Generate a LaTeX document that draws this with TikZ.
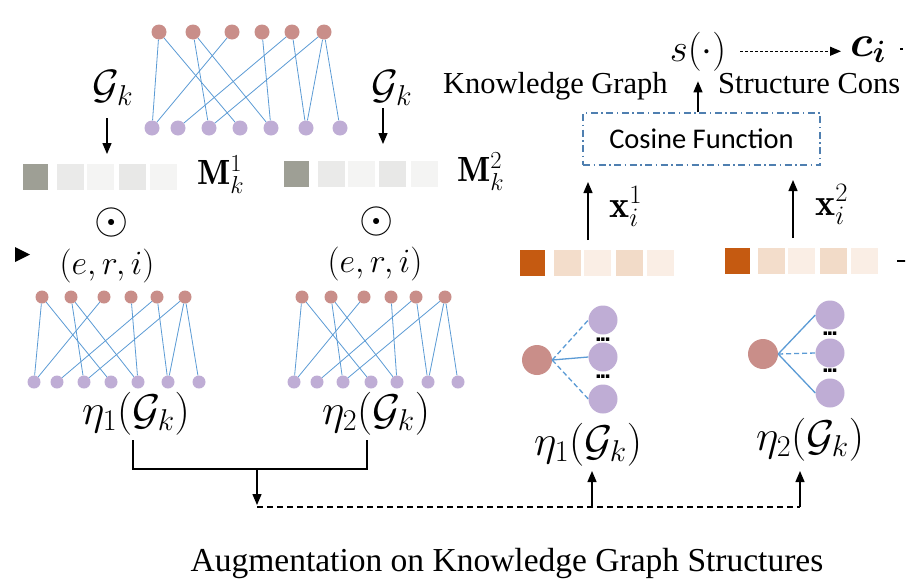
\RequirePackage{fix-cm}
\documentclass[tikz,border=0pt]{standalone}
\usepackage{fontspec}
\usepackage{amsmath,amssymb,bm}
\usetikzlibrary{arrows.meta}
\newfontfamily\timesfont{Liberation Serif}
\newfontfamily\califont{Carlito}
\newfontfamily\dotfont{Liberation Sans}[BoldFont={Liberation Sans Bold}]
\newcommand\fs[1]{\fontsize{#1}{#1}\selectfont}
\newcommand\vdotsx{{\dotfont\bfseries\fs{24}.\kern-2pt.\kern-2pt.}}
\definecolor{rednode}{HTML}{C98E89}
\definecolor{purnode}{HTML}{BFADD5}
\definecolor{edgeblue}{HTML}{5B9BD5}
\definecolor{boxblue}{HTML}{4F7FB0}
\definecolor{gdark}{HTML}{9E9F95}
\definecolor{gA}{HTML}{EAEAE9}
\definecolor{gB}{HTML}{F4F4F3}
\definecolor{gC}{HTML}{E8E8E7}
\definecolor{odark}{HTML}{C55A11}
\definecolor{oA}{HTML}{F3DDCB}
\definecolor{oB}{HTML}{FAEEE5}
\definecolor{oC}{HTML}{F2DBC8}
\begin{document}
\begin{tikzpicture}[x=1pt,y=-1pt,
  rn/.style={circle,fill=rednode,inner sep=0pt,minimum size=15pt},
  pn/.style={circle,fill=purnode,inner sep=0pt,minimum size=15pt},
  srn/.style={rn,minimum size=13pt},
  spn/.style={pn,minimum size=13pt},
  ed/.style={edgeblue,line width=0.8pt},
  sed/.style={edgeblue,line width=1.3pt},
  sdash/.style={sed,dash pattern=on 5pt off 3pt},
  sq/.style={rectangle,inner sep=0pt,minimum width=27pt,minimum height=26pt},
  dsq/.style={rectangle,inner sep=0pt,minimum width=25pt,minimum height=26pt},
  arr/.style={-{Triangle[length=11pt,width=9pt]},line width=1.3pt},
  darr/.style={-{Triangle[length=11pt,width=9pt]},line width=1.1pt,dash pattern=on 3pt off 2pt},
  brk/.style={line width=1.1pt},
  bdash/.style={line width=1.1pt,dash pattern=on 6pt off 4pt},
  mth/.style={inner sep=0pt}
]
\useasboundingbox (0,0) rectangle (924,584);
\fill[white] (0,0) rectangle (924,584);
\begin{scope}
\clip (0,0) rectangle (905,584);

% ---------- top graph
\foreach \x [count=\i] in {159,193,232,262,292,324}
  \node[rn] (t-r\i) at (\x,32) {};
\foreach \x [count=\i] in {152,178,209,240,271,306,340}
  \node[pn] (t-p\i) at (\x,128) {};
\foreach \a/\b in {1/1,1/4,2/3,2/5,3/1,4/5,5/2,5/6,6/3,6/6,6/7}
  \draw[ed] (t-r\a) -- (t-p\b);

% ---------- bottom graphs
\foreach \x [count=\i] in {42,71,104,131,157,185}
  \node[srn] (a-r\i) at (\x,297) {};
\foreach \x [count=\i] in {34,57,84,111,138,168,199}
  \node[spn] (a-p\i) at (\x,382) {};
\foreach \x [count=\i] in {302,331,364,391,416,445}
  \node[srn] (b-r\i) at (\x,297) {};
\foreach \x [count=\i] in {294,317,343,371,397,428,458}
  \node[spn] (b-p\i) at (\x,382) {};
\foreach \a/\b in {1/1,1/4,2/3,2/5,3/1,4/5,5/2,5/6,6/3,6/6,6/7}{
  \draw[ed] (a-r\a) -- (a-p\b);
  \draw[ed] (b-r\a) -- (b-p\b);
}

% ---------- G_k labels and arrows
\node[mth] (gk1) at (113,88) {\fs{41}$\mathcal{G}_k$};
\node[mth] (gk2) at (392,88) {\fs{41}$\mathcal{G}_k$};
\coordinate (g1a) at (107,118);
\coordinate (g1b) at (107,154);
\coordinate (g2a) at (383,108);
\coordinate (g2b) at (383,144);
\draw[arr] (g1a) -- (g1b);
\draw[arr] (g2a) -- (g2b);

% ---------- mask vectors
\node[dsq,fill=gdark] (m1-0) at (35.5,177) {};
\node[sq,fill=gA] (m1-1) at (70.5,177) {};
\node[sq,fill=gB] (m1-2) at (100.5,177) {};
\node[sq,fill=gC] (m1-3) at (132,177) {};
\node[sq,fill=gB] (m1-4) at (163,177) {};
\node[dsq,fill=gdark] (m2-0) at (296,174) {};
\node[sq,fill=gA] (m2-1) at (331,174) {};
\node[sq,fill=gB] (m2-2) at (361.5,174) {};
\node[sq,fill=gC] (m2-3) at (392,174) {};
\node[sq,fill=gB] (m2-4) at (424,174) {};
\node[mth,anchor=base west] (M1) at (197,184) {\fs{35}$\mathbf{M}_k^1$};
\node[mth,anchor=base west] (M2) at (457,181) {\fs{35}$\mathbf{M}_k^2$};

% ---------- odot and triples
\node[mth] (od1) at (112,222) {\fs{44}$\odot$};
\node[mth] (od2) at (377,221) {\fs{44}$\odot$};
\node[mth,anchor=base] (eri1) at (107,274) {\fs{34}$(e,r,i)$};
\node[mth,anchor=base] (eri2) at (375,272) {\fs{34}$(e,r,i)$};
\fill (15,247) -- (30,254.5) -- (15,262) -- cycle;

% ---------- eta labels (left)
\node[mth,anchor=base] (eta1) at (136,424) {\fs{43}$\eta_1(\mathcal{G}_k)$};
\node[mth,anchor=base] (eta2) at (376,424) {\fs{43}$\eta_2(\mathcal{G}_k)$};
\coordinate (bk1) at (133,440);
\coordinate (bk2) at (133,469);
\coordinate (bk3) at (367,469);
\coordinate (bk4) at (367,440);
\draw[brk] (bk1) -- (bk2) -- (bk3) -- (bk4);
\coordinate (bd1) at (257,469);
\coordinate (bd2) at (257,505);
\draw[arr] (bd1) -- (bd2);
\coordinate (dl1) at (257,507);
\coordinate (dl2) at (800,507);
\draw[bdash] (dl1) -- (dl2);
\coordinate (up1) at (592,507);
\coordinate (up1e) at (592,471);
\coordinate (up2e) at (800,471);
\draw[arr] (up1) -- (up1e);
\draw[arr] (dl2) -- (up2e);

% ---------- caption
\node[anchor=base] (cap) at (507,571) {\timesfont\fs{33.5}Augmentation on Knowledge Graph Structures};

% ---------- right top
\node[mth,anchor=base] (s) at (698,61) {\fs{39}$s(\cdot)$};
\node[mth,anchor=base west] (ci) at (850,56) {\fs{44}$\bm{c}_{\bm{i}}$};
\coordinate (da) at ([xshift=14pt]s.east);
\coordinate (db) at (da -| ci.west);
\draw[darr] (da) -- ([xshift=-9pt]db);
\coordinate (cf1) at (900,49);
\coordinate (cf2) at (915,49);
\draw[line width=1.1pt,dash pattern=on 2.5pt off 3pt] (cf1) -- (cf2);
\node[anchor=base west,inner sep=0pt] (kg) at (443,93) {\timesfont\fs{30.5}Knowledge Graph};
\node[anchor=base west,inner sep=0pt] (sc) at (718,93) {\timesfont\fs{30.5}Structure Cons};
\node[draw=boxblue,line width=1.4pt,dash pattern=on 7pt off 3.5pt on 1.5pt off 3.5pt,
      minimum width=237pt,minimum height=52pt,inner sep=0pt] (cos) at (701.5,139) {\califont\fs{28.5}Cosine Function};
\draw[arr] ([xshift=-3.5pt]cos.north) -- ++(0,-31);

% ---------- x vectors
\coordinate (x1a) at (588,240);
\coordinate (x1b) at (588,182);
\coordinate (x2a) at (793,238);
\coordinate (x2b) at (793,180);
\draw[arr] (x1a) -- (x1b);
\draw[arr] (x2a) -- (x2b);
\node[mth,anchor=base west] (x1) at (609,217) {\fs{38}$\mathbf{x}_i^1$};
\node[mth,anchor=base west] (x2) at (815,215) {\fs{38}$\mathbf{x}_i^2$};
\node[dsq,fill=odark] (o1-0) at (532.5,263) {};
\node[sq,fill=oA] (o1-1) at (567,263) {};
\node[sq,fill=oB] (o1-2) at (597,263) {};
\node[sq,fill=oC] (o1-3) at (629,263) {};
\node[sq,fill=oB] (o1-4) at (660.5,263) {};
\node[dsq,fill=odark] (o2-0) at (737,261) {};
\node[sq,fill=oA] (o2-1) at (771.5,261) {};
\node[sq,fill=oB] (o2-2) at (801,261) {};
\node[sq,fill=oC] (o2-3) at (833,261) {};
\node[sq,fill=oB] (o2-4) at (864.5,261) {};
\coordinate (xf1) at (897,261);
\coordinate (xf2) at (915,261);
\draw[line width=1.5pt] (xf1) -- (xf2);

% ---------- small graphs
\node[rn,minimum size=30pt] (g1r) at (537,360) {};
\node[pn,minimum size=29pt] (g1p1) at (603,320) {};
\node[pn,minimum size=29pt] (g1p2) at (603,357) {};
\node[pn,minimum size=29pt] (g1p3) at (603,399) {};
\draw[sdash] (g1r.east) -- (g1p1.west);
\draw[sed] (g1r.east) -- (g1p2.west);
\draw[sdash] (g1r.east) -- (g1p3.west);
\node[inner sep=0pt] (g1d1) at (603,340) {\vdotsx};
\node[inner sep=0pt] (g1d2) at (603,377) {\vdotsx};

\node[rn,minimum size=30pt] (g2r) at (763,354) {};
\node[pn,minimum size=29pt] (g2p1) at (830,315) {};
\node[pn,minimum size=29pt] (g2p2) at (830,353) {};
\node[pn,minimum size=29pt] (g2p3) at (830,393) {};
\draw[sed] (g2r.east) -- (g2p1.west);
\draw[sdash] (g2r.east) -- (g2p2.west);
\draw[sed] (g2r.east) -- (g2p3.west);
\node[inner sep=0pt] (g2d1) at (830,334) {\vdotsx};
\node[inner sep=0pt] (g2d2) at (830,371) {\vdotsx};

\node[mth,anchor=base] (eta3) at (588,455) {\fs{43}$\eta_1(\mathcal{G}_k)$};
\node[mth,anchor=base] (eta4) at (810,450) {\fs{43}$\eta_2(\mathcal{G}_k)$};
\end{scope}
\end{tikzpicture}
\end{document}
